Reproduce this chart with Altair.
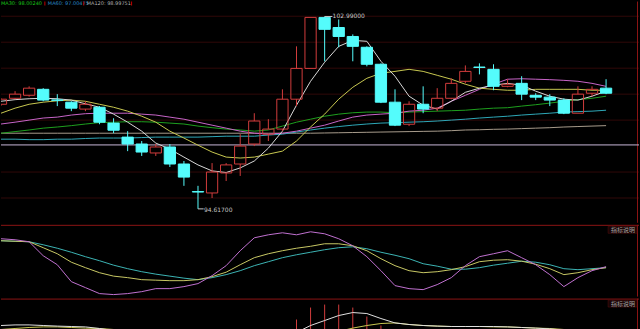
import altair as alt
import pandas as pd

# ---------------- data ----------------
idx = list(range(44))
opens = [99.17, 99.43, 99.56, 99.82, 99.36, 99.26, 98.96, 99.04, 98.35, 97.74, 97.44, 97.05, 97.31, 96.57, 95.37,
         95.31, 96.18, 96.57, 97.44, 97.87, 98.09, 99.39, 100.73, 102.95, 102.51, 102.12, 101.65, 100.91, 99.26,
         98.30, 99.17, 99.00, 99.43, 100.17, 100.79, 100.69, 99.95, 100.08, 99.56, 99.48, 99.35, 98.78, 99.65, 99.87]
highs = [99.43, 99.74, 99.95, 99.87, 99.61, 99.30, 99.30, 99.09, 98.56, 98.00, 97.57, 97.44, 97.44, 96.70, 95.62,
         96.61, 96.61, 97.87, 98.78, 98.52, 99.82, 101.69, 102.95, 102.99, 102.86, 102.21, 101.69, 100.95, 99.82,
         99.30, 99.95, 99.87, 100.30, 100.86, 100.95, 100.91, 100.26, 100.39, 99.65, 99.61, 99.43, 99.95, 99.95, 100.26]
lows = [99.10, 99.39, 99.50, 99.30, 99.09, 98.87, 98.87, 98.30, 97.91, 97.13, 96.92, 96.92, 96.44, 95.62, 94.617,
        95.09, 95.83, 96.05, 97.35, 97.57, 98.00, 99.09, 100.73, 101.04, 101.65, 101.04, 100.82, 99.22, 98.22,
        98.22, 98.78, 98.87, 99.39, 100.08, 100.47, 99.78, 99.91, 99.35, 99.35, 99.09, 98.74, 98.78, 99.52, 99.61]
closes = [99.39, 99.61, 99.87, 99.35, 99.34, 99.00, 99.17, 98.39, 98.04, 97.44, 97.09, 97.31, 96.57, 96.00, 95.35,
          96.22, 96.53, 97.35, 98.44, 98.09, 99.39, 100.73, 102.95, 102.43, 102.12, 101.69, 100.91, 99.26, 98.26,
          99.17, 98.96, 99.43, 100.08, 100.60, 100.77, 99.95, 100.04, 99.61, 99.48, 99.35, 98.78, 99.61, 99.82, 99.65]

ma5 = [99.30, 99.37, 99.41, 99.43, 99.41, 99.35, 99.19, 99.04, 98.74, 98.39, 98.00, 97.48, 97.22, 96.87, 96.53,
       96.27, 96.20, 96.40, 96.70, 97.26, 98.00, 99.13, 100.17, 101.00, 101.69, 101.95, 101.91, 101.04, 100.39,
       99.52, 99.13, 98.96, 99.30, 99.69, 99.87, 100.00, 100.08, 100.00, 99.74, 99.52, 99.39, 99.35, 99.52, 99.74]
ma10 = [98.78, 99.00, 99.17, 99.26, 99.32, 99.35, 99.30, 99.17, 99.04, 98.87, 98.65, 98.39, 98.00, 97.70, 97.39,
        97.09, 96.87, 96.83, 96.87, 97.00, 97.13, 97.57, 98.18, 98.74, 99.39, 99.91, 100.30, 100.52, 100.60,
        100.69, 100.60, 100.43, 100.26, 100.04, 99.87, 99.82, 99.78, 99.78, 99.82, 99.82, 99.82, 99.82, 99.78, 99.78]
ma20 = [98.31, 98.39, 98.48, 98.57, 98.61, 98.70, 98.76, 98.78, 98.78, 98.78, 98.74, 98.70, 98.61, 98.52, 98.39,
        98.26, 98.13, 98.00, 97.91, 97.87, 97.91, 98.00, 98.13, 98.26, 98.44, 98.61, 98.70, 98.74, 98.78,
        98.87, 98.91, 99.00, 99.30, 99.56, 99.82, 100.04, 100.26, 100.28, 100.26, 100.24, 100.21, 100.17, 100.08, 99.95]
ma30 = [97.91, 97.98, 98.05, 98.13, 98.18, 98.24, 98.31, 98.37, 98.39, 98.41, 98.41, 98.39, 98.35, 98.31, 98.22,
        98.15, 98.09, 98.05, 98.00, 98.05, 98.22, 98.39, 98.52, 98.65, 98.74, 98.80, 98.83, 98.83, 98.80,
        98.83, 98.85, 98.87, 98.89, 98.91, 98.96, 99.00, 99.02, 99.09, 99.15, 99.22, 99.30, 99.37, 99.43, 99.52]
ma60 = [97.65, 97.65, 97.63, 97.63, 97.65, 97.65, 97.68, 97.70, 97.70, 97.70, 97.72, 97.74, 97.74, 97.74, 97.74,
        97.76, 97.78, 97.78, 97.78, 97.83, 97.87, 97.96, 98.05, 98.13, 98.20, 98.26, 98.31, 98.35, 98.37,
        98.39, 98.41, 98.44, 98.48, 98.52, 98.57, 98.61, 98.65, 98.70, 98.74, 98.78, 98.83, 98.85, 98.87, 98.91]
ma120 = [97.91, 97.91, 97.91, 97.91, 97.91, 97.91, 97.91, 97.91, 97.91, 97.91, 97.91, 97.91, 97.91, 97.91, 97.91,
         97.91, 97.91, 97.91, 97.91, 97.91, 97.91, 97.91, 97.91, 97.92, 97.93, 97.94, 97.95, 97.96, 97.97,
         97.98, 97.99, 98.00, 98.02, 98.05, 98.06, 98.08, 98.09, 98.11, 98.13, 98.15, 98.18, 98.20, 98.22, 98.24]
flat_line = 97.40

# oscillator panel (0-100)
osc_k = [80.6, 79.2, 76.4, 56.9, 44.4, 20.8, 12.5, 4.2, 2.8, 4.2, 6.9, 11.1, 11.1, 13.9, 18.1, 29.2, 43.1, 63.9,
         81.9, 86.1, 88.9, 86.1, 90.3, 87.5, 80.6, 70.8, 55.6, 36.1, 15.3, 11.1, 9.7, 16.7, 26.4, 43.1, 55.6, 59.7,
         63.9, 54.2, 44.4, 30.6, 13.9, 26.4, 36.1, 41.7]
osc_d = [77.8, 77.1, 76.4, 68.1, 59.7, 47.9, 40.3, 33.3, 28.5, 26.4, 23.6, 22.9, 22.2, 22.2, 23.6, 27.8, 34.0, 44.4,
         54.2, 59.7, 63.9, 67.4, 70.1, 73.6, 73.6, 70.8, 63.9, 52.8, 43.1, 36.1, 33.3, 34.7, 37.5, 41.7, 48.6, 50.7,
         51.4, 49.3, 45.1, 38.9, 30.6, 33.3, 37.5, 40.3]
osc_j = [77.8, 77.1, 76.4, 72.2, 67.4, 61.8, 55.6, 50.0, 43.8, 38.9, 34.7, 31.3, 28.5, 25.7, 23.6, 26.4, 30.6, 36.1,
         43.1, 48.6, 54.2, 58.3, 61.8, 65.3, 68.1, 69.4, 66.7, 61.8, 57.6, 52.8, 45.8, 42.4, 38.2, 38.2, 40.3, 43.8,
         46.5, 49.3, 47.9, 44.4, 38.9, 37.5, 38.9, 40.3]

# MACD panel
dif = [0.475, 0.49, 0.49, 0.475, 0.46, 0.45, 0.44, 0.40, 0.35, 0.29, 0.225, 0.15, 0.075, 0.0, -0.05, -0.075, -0.05,
       0.0, 0.075, 0.15, 0.225, 0.30, 0.475, 0.60, 0.725, 0.80, 0.775, 0.65, 0.54, 0.50, 0.475, 0.46, 0.45, 0.45,
       0.45, 0.45, 0.44, 0.425, 0.41, 0.39, 0.36, 0.34, 0.31, 0.30]
dea = [0.375, 0.40, 0.425, 0.44, 0.44, 0.425, 0.41, 0.40, 0.375, 0.34, 0.30, 0.25, 0.20, 0.15, 0.10, 0.06, 0.04,
       0.025, 0.025, 0.05, 0.09, 0.14, 0.20, 0.25, 0.325, 0.41, 0.475, 0.525, 0.54, 0.50, 0.475, 0.46, 0.45, 0.45,
       0.45, 0.44, 0.44, 0.425, 0.41, 0.40, 0.375, 0.34, 0.31, 0.30]
macd = [0, 0, 0, 0, 0, 0, 0, 0, 0, 0, 0, 0, 0, 0, 0, 0, 0, 0, 0, 0, 0.375, 0.625, 0.925, 1.0, 1.0, 0.925, 0.70, 0.475,
        0, 0, 0, 0, 0, 0, 0, 0, 0, 0, 0, 0, 0, 0, 0, 0]

legend_items = ["MA30: 98.00240", "MA60: 97.00475", "MA120: 98.99751"]
panel_label = "指标说明"

# ---------------- styling ----------------
RED = "#d23c3c"
CYAN = "#54fcfc"
BG = "#000000"
GRID = "#300808"
BORDER = "#8c1414"
W = 640

df = pd.DataFrame({"i": idx, "open": opens, "high": highs, "low": lows, "close": closes,
                   "ma5": ma5, "ma10": ma10, "ma20": ma20, "ma30": ma30, "ma60": ma60, "ma120": ma120,
                   "k": osc_k, "d": osc_d, "j": osc_j, "dif": dif, "dea": dea, "macd": macd})

xs = alt.Scale(domain=[0, 45.34], nice=False, zero=False)
X = alt.X("i:Q", scale=xs, axis=None)
ys = alt.Scale(domain=[94.01, 103.641], nice=False, zero=False)

base = alt.Chart(df)
one = pd.DataFrame({"a": [0]})


def ma_line(col, color):
    return base.mark_line(color=color, strokeWidth=1, clip=True).encode(
        x=X, y=alt.Y(f"{col}:Q", scale=ys, axis=None))


cd = base.transform_calculate(
    top="max(datum.open, datum.close)",
    bot="min(datum.open, datum.close)",
    xl="datum.i - 0.4",
    xr="datum.i + 0.4",
)
up = cd.transform_filter("datum.close >= datum.open")
dn = cd.transform_filter("datum.close < datum.open")

up_hi = up.mark_rule(color=RED, strokeWidth=1, clip=True).encode(
    x=X, y=alt.Y("high:Q", scale=ys, axis=None), y2="top:Q")
up_lo = up.mark_rule(color=RED, strokeWidth=1, clip=True).encode(
    x=X, y=alt.Y("bot:Q", scale=ys, axis=None), y2="low:Q")
up_body = up.mark_rect(fillOpacity=0, stroke=RED, strokeWidth=1, clip=True).encode(
    x=alt.X("xl:Q", scale=xs, axis=None), x2="xr:Q",
    y=alt.Y("top:Q", scale=ys, axis=None), y2="bot:Q")
dn_wick = dn.mark_rule(color=CYAN, strokeWidth=1, clip=True).encode(
    x=X, y=alt.Y("high:Q", scale=ys, axis=None), y2="low:Q")
dn_body = dn.mark_rect(color=CYAN, stroke=CYAN, strokeWidth=1, clip=True).encode(
    x=alt.X("xl:Q", scale=xs, axis=None), x2="xr:Q",
    y=alt.Y("top:Q", scale=ys, axis=None), y2="bot:Q")

flat = alt.Chart(pd.DataFrame({"v": [flat_line]})).mark_rule(color="#c8b8d8", strokeWidth=1).encode(
    y=alt.Y("v:Q", scale=ys, axis=None))

# extremes
hi_pt = cd.transform_filter("datum.i == 23").transform_calculate(xe="datum.i + 0.55")
lo_pt = cd.transform_filter("datum.i == 14").transform_calculate(xe="datum.i + 0.4")
hi_dash = hi_pt.mark_rule(color="#c8c8c8", strokeWidth=1).encode(
    x=X, x2="xe:Q", y=alt.Y("high:Q", scale=ys, axis=None))
hi_txt = hi_pt.mark_text(color="#c8c8c8", fontSize=6, align="left", baseline="middle", dx=8,
                         font="DejaVu Sans").encode(
    x=X, y=alt.Y("high:Q", scale=ys, axis=None), text=alt.Text("high:Q", format=".5f"))
lo_dash = lo_pt.mark_rule(color="#c8c8c8", strokeWidth=1).encode(
    x=X, x2="xe:Q", y=alt.Y("low:Q", scale=ys, axis=None))
lo_txt = lo_pt.mark_text(color="#c8c8c8", fontSize=6, align="left", baseline="middle", dx=6, dy=1,
                         font="DejaVu Sans").encode(
    x=X, y=alt.Y("low:Q", scale=ys, axis=None), text=alt.Text("low:Q", format=".5f"))

# header legend (placed in pixels)
leg_colors = ["#18c818", "#2a8ed0", "#b4b4b4"]
leg_px = [0, 47, 86]
leg_layers = []
for t, c, p in zip(legend_items, leg_colors, leg_px):
    leg_layers.append(alt.Chart(pd.DataFrame({"t": [t]})).mark_text(
        fontSize=5, align="left", baseline="alphabetic", font="DejaVu Sans", color=c).encode(
        x=alt.value(p), y=alt.value(3), text="t:N"))
for p in [44, 83, 131]:
    leg_layers.append(alt.Chart(one).mark_rule(color="#c00000", strokeWidth=1).encode(
        x=alt.value(p), y=alt.value(0), y2=alt.value(4)))

main_grid_vals = [103.0, 101.87, 100.74, 99.61, 98.48, 96.22, 95.09]
mgrid = alt.Chart(pd.DataFrame({"v": main_grid_vals})).mark_rule(color=GRID, strokeWidth=1).encode(
    y=alt.Y("v:Q", scale=ys, axis=None))
right_border = alt.Chart(one).mark_rule(color=BORDER).encode(
    x=alt.value(638.5), y=alt.value(0), y2=alt.value(222))

main = alt.layer(
    mgrid, right_border, flat,
    ma_line("ma120", "#a89c8c"), ma_line("ma60", "#2ea8b8"), ma_line("ma30", "#1ea01e"),
    ma_line("ma20", "#c864c8"), ma_line("ma10", "#c8c850"), ma_line("ma5", "#d8d8d8"),
    up_hi, up_lo, up_body, dn_wick, dn_body,
    hi_dash, hi_txt, lo_dash, lo_txt, *leg_layers,
).properties(width=W, height=222)

# ---------------- oscillator panel ----------------
os_ = alt.Scale(domain=[0, 100], nice=False, zero=False)


def osc_line(col, color):
    return base.mark_line(color=color, strokeWidth=1, clip=True).encode(
        x=X, y=alt.Y(f"{col}:Q", scale=os_, axis=None))


def panel_frame(h):
    top = alt.Chart(one).mark_rule(color=BORDER, strokeWidth=1).encode(
        x=alt.value(0), x2=alt.value(W), y=alt.value(0.5))
    rb = alt.Chart(one).mark_rule(color=BORDER).encode(
        x=alt.value(638.5), y=alt.value(0), y2=alt.value(h))
    box = alt.Chart(one).mark_rect(fill="#1a0505", stroke="#5a1010", strokeWidth=0.5).encode(
        x=alt.value(609), x2=alt.value(638), y=alt.value(1.5), y2=alt.value(8.5))
    txt = alt.Chart(pd.DataFrame({"t": [panel_label]})).mark_text(
        fontSize=6, align="right", baseline="top", color="#a0a0a0", font="Noto Sans CJK SC").encode(
        x=alt.value(636), y=alt.value(2), text="t:N")
    return [top, rb, box, txt]


osc = alt.layer(
    *panel_frame(72),
    osc_line("j", "#3cb4b4"), osc_line("d", "#c8c864"), osc_line("k", "#c070d0"),
).properties(width=W, height=72)

# ---------------- MACD panel ----------------
ms = alt.Scale(domain=[0.275, 1.15], nice=False, zero=False)
bars = base.transform_calculate(z="0").mark_rule(color="#d23c3c", strokeWidth=1, clip=True).encode(
    x=X, y=alt.Y("z:Q", scale=ms, axis=None), y2="macd:Q")
l_dif = base.mark_line(color="#e0e0e0", strokeWidth=1, clip=True).encode(
    x=X, y=alt.Y("dif:Q", scale=ms, axis=None))
l_dea = base.mark_line(color="#c8c850", strokeWidth=1, clip=True).encode(
    x=X, y=alt.Y("dea:Q", scale=ms, axis=None))

macd_p = alt.layer(*panel_frame(35), bars, l_dea, l_dif).properties(width=W, height=35)

chart = alt.vconcat(main, osc, macd_p, spacing=0).properties(
    padding=0, background=BG,
).configure_view(stroke=None)

chart.save("out.html", embed_options={"renderer": "svg", "actions": False})
